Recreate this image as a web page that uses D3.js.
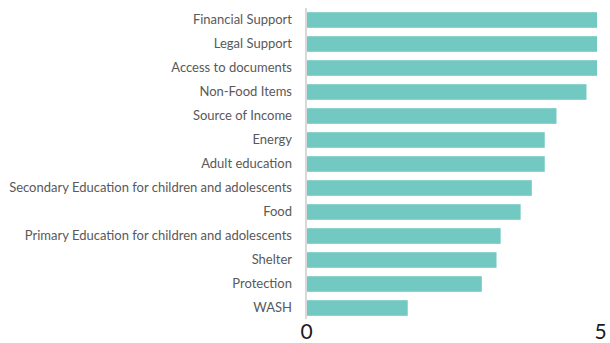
<!DOCTYPE html>
<html>
<head>
<meta charset="utf-8">
<script src="https://cdn.jsdelivr.net/npm/d3@7"></script>
<style>
  html, body { margin: 0; padding: 0; background: #fff; }
  svg { display: block; }
</style>
</head>
<body>
<svg id="chart" width="610" height="343"></svg>
<script>
const categories = [
  "Financial Support",
  "Legal Support",
  "Access to documents",
  "Non-Food Items",
  "Source of Income",
  "Energy",
  "Adult education",
  "Secondary Education for children and adolescents",
  "Food",
  "Primary Education for children and adolescents",
  "Shelter",
  "Protection",
  "WASH"
];
const values = [4.95, 4.95, 4.95, 4.77, 4.26, 4.06, 4.06, 3.84, 3.65, 3.31, 3.24, 2.99, 1.73];
const tickValues = [0, 5];

const svg = d3.select("#chart");

const x = d3.scaleLinear().domain([0, 5]).range([306, 600]);
const y = d3.scaleBand().domain(categories).range([8, 320]).paddingInner(0.35).paddingOuter(0.175);

// bars
svg.append("g").selectAll("rect")
  .data(categories.map((c, i) => ({ c, v: values[i] })))
  .join("rect")
  .attr("x", x(0) + 1)
  .attr("y", d => y(d.c))
  .attr("width", d => x(d.v) - x(0) - 1)
  .attr("height", y.bandwidth())
  .attr("fill", "#71c9c1");

// y axis (category labels)
const yAxis = svg.append("g")
  .attr("transform", `translate(${x(0)},0)`)
  .call(d3.axisLeft(y).tickSize(0).tickPadding(14));
yAxis.select(".domain").remove();
yAxis.selectAll("text")
  .attr("font-family", "Lato, sans-serif")
  .attr("font-size", 13)
  .attr("fill", "#595959");

// axis line
svg.append("line")
  .attr("x1", x(0)).attr("x2", x(0))
  .attr("y1", 8).attr("y2", 319)
  .attr("stroke", "#d9d9d9")
  .attr("stroke-width", 2);

// x axis ticks
const xAxis = svg.append("g")
  .attr("transform", "translate(0,320)")
  .call(d3.axisBottom(x).tickValues(tickValues).tickFormat(d3.format("d")).tickSize(0).tickPadding(4));
xAxis.select(".domain").remove();
xAxis.selectAll("text")
  .attr("font-family", "Lato, sans-serif")
  .attr("font-size", 21)
  .attr("fill", "#1a1a1a")
  .attr("dy", "0.72em");
</script>
</body>
</html>
